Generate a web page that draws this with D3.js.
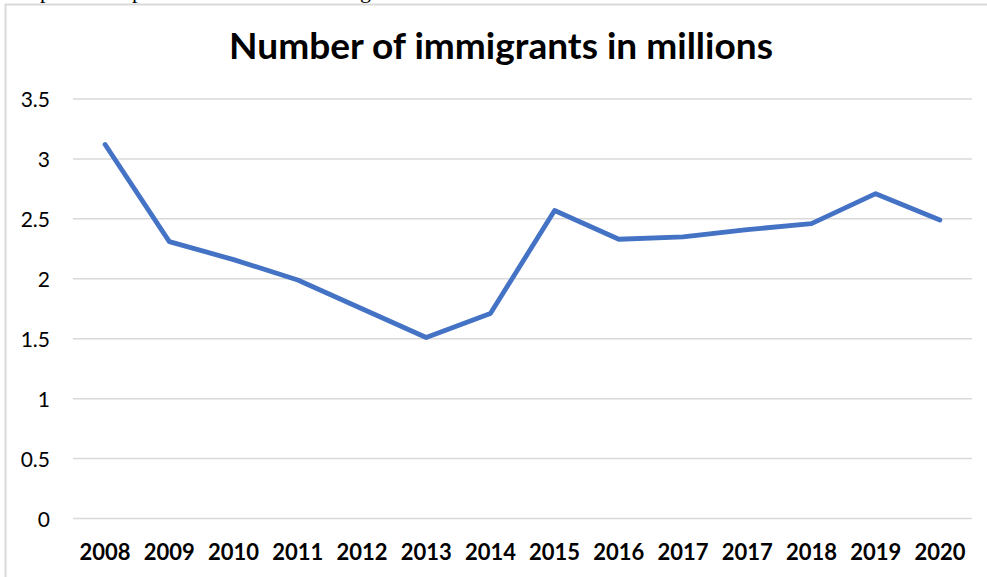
<!DOCTYPE html>
<html>
<head>
<meta charset="utf-8">
<script src="https://cdn.jsdelivr.net/npm/d3@7"></script>
<style>
  html, body { margin: 0; padding: 0; background: #fff; }
  svg { display: block; }
</style>
</head>
<body>
<svg id="chart" width="987" height="577"></svg>
<script>
// Immigration figures, millions per year
const years = ["2008", "2009", "2010", "2011", "2012", "2013", "2014",
               "2015", "2016", "2017", "2017", "2018", "2019", "2020"];
const immigrants = [3.12, 2.31, 2.16, 1.99, 1.75, 1.51, 1.71,
                    2.57, 2.33, 2.35, 2.41, 2.46, 2.71, 2.49];
const yTicks = [0, 0.5, 1, 1.5, 2, 2.5, 3, 3.5];
const yTickLabels = ["0", "0.5", "1", "1.5", "2", "2.5", "3", "3.5"];
const chartTitle = "Number of immigrants in millions";

const svg = d3.select("#chart");
const W = 987, H = 577;
const plot = { left: 73, right: 972, top: 99, bottom: 518.5 };
const fontFamily = "Lato, 'Open Sans', 'Noto Sans', sans-serif";

// Fragments of the surrounding document line, cut off by the frame
const fragments = [{ ch: "p", x: 40 }, { ch: "p", x: 132 }, { ch: "g", x: 360 }];
svg.append("g")
  .selectAll("text")
  .data(fragments)
  .join("text")
  .attr("x", d => d.x)
  .attr("y", -2)
  .attr("font-family", "'Liberation Serif', serif")
  .attr("font-size", 22)
  .attr("fill", "#000")
  .text(d => d.ch);

// Chart frame (top and left edges)
svg.append("path")
  .attr("d", `M5.5,${H} L5.5,4.5 L${W},4.5`)
  .attr("fill", "none")
  .attr("stroke", "#d9d9d9")
  .attr("stroke-width", 2);

// Scales: one band per category, points at band centres
const x = d3.scaleBand()
  .domain(d3.range(years.length))
  .range([plot.left, plot.right]);
const y = d3.scaleLinear()
  .domain([0, 3.5])
  .range([plot.bottom, plot.top]);
const cx = i => x(i) + x.bandwidth() / 2;

// Horizontal gridlines
svg.append("g")
  .selectAll("line")
  .data(yTicks)
  .join("line")
  .attr("x1", plot.left)
  .attr("x2", plot.right)
  .attr("y1", d => y(d))
  .attr("y2", d => y(d))
  .attr("stroke", "#d9d9d9")
  .attr("stroke-width", 1.5);

// Y axis labels
const yAxis = d3.axisLeft(y)
  .tickValues(yTicks)
  .tickFormat((d, i) => yTickLabels[i])
  .tickSize(0)
  .tickPadding(23);
const yg = svg.append("g")
  .attr("transform", `translate(${plot.left},0)`)
  .call(yAxis);
yg.select(".domain").remove();
yg.selectAll("text")
  .attr("font-family", fontFamily)
  .attr("font-size", 21)
  .attr("fill", "#000")
  .attr("dy", "0.36em");

// X axis labels
const xAxis = d3.axisBottom(x)
  .tickFormat(i => years[i])
  .tickSize(0)
  .tickPadding(0);
const xg = svg.append("g")
  .attr("transform", `translate(0,${plot.bottom})`)
  .call(xAxis);
xg.select(".domain").remove();
xg.selectAll("text")
  .attr("font-family", fontFamily)
  .attr("font-size", 22)
  .attr("font-weight", "bold")
  .attr("fill", "#000")
  .attr("dy", null)
  .attr("y", 41.5);

// Series line
const line = d3.line()
  .x((d, i) => cx(i))
  .y(d => y(d));
svg.append("path")
  .datum(immigrants)
  .attr("d", line)
  .attr("fill", "none")
  .attr("stroke", "#4472c4")
  .attr("stroke-width", 4.8)
  .attr("stroke-linejoin", "round")
  .attr("stroke-linecap", "round");

// Title, sized to its measured width
const title = svg.append("text")
  .attr("x", 501)
  .attr("y", 59)
  .attr("text-anchor", "middle")
  .attr("font-family", fontFamily)
  .attr("font-weight", "bold")
  .attr("font-size", 36)
  .attr("fill", "#000")
  .text(chartTitle);
const tw = title.node().getComputedTextLength();
title.attr("font-size", 36 * 544 / tw);
</script>
</body>
</html>
